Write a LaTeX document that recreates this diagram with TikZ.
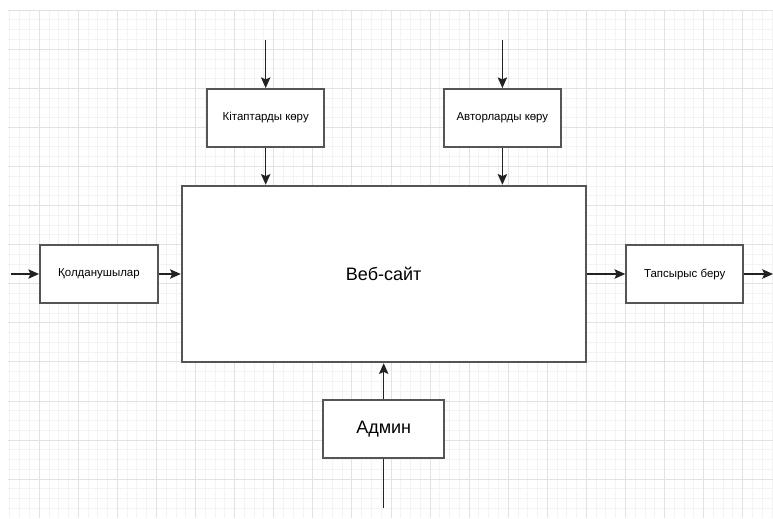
\documentclass[tikz,border=0pt]{standalone}
\usepackage{fontspec}
\setmainfont{Liberation Sans}
\usetikzlibrary{arrows.meta}
\definecolor{gridminor}{HTML}{F3F3F3}
\definecolor{gridmajor}{HTML}{E2E2E2}
\definecolor{boxline}{HTML}{555555}
\definecolor{arrowline}{HTML}{222222}
\begin{document}
\begin{tikzpicture}[x=0.75pt,y=-0.75pt,
  box/.style={draw=boxline, line width=1.4pt, fill=white, inner sep=0pt,
    align=center, minimum height={58*0.75pt}},
  smallbox/.style={box, minimum width={117*0.75pt}, font=\fontsize{8.6pt}{10pt}\selectfont},
  bigtext/.style={font=\fontsize{13.5pt}{16pt}\selectfont},
  flow/.style={draw=arrowline, line width=1.1pt, -{Stealth[length=8pt,width=7pt,inset=1.5pt]}},
  plain/.style={draw=arrowline, line width=1.1pt}]
  % page and background grid
  \useasboundingbox (0,0) rectangle (773,518);
  \fill[white] (0,0) rectangle (773,518);
  \begin{scope}
    \clip (8,10.5) rectangle (773,517);
    \foreach \i in {0,...,80} {
      \draw[gridminor, line width=0.75pt] ({0.2+9.77*\i},0) -- ({0.2+9.77*\i},520);
    }
    \foreach \i in {0,...,53} {
      \draw[gridminor, line width=0.75pt] (0,{10.2+9.77*\i}) -- (775,{10.2+9.77*\i});
    }
    \foreach \i in {0,...,20} {
      \draw[gridmajor, line width=0.75pt] ({0.2+39.08*\i},0) -- ({0.2+39.08*\i},520);
    }
    \foreach \i in {0,...,13} {
      \draw[gridmajor, line width=0.75pt] (0,{10.2+39.08*\i}) -- (775,{10.2+39.08*\i});
    }
  \end{scope}

  % blocks
  \node[box, minimum width={404*0.75pt}, minimum height={176.6*0.75pt}, bigtext] (web) at (383.7,274) {Веб-сайт};
  \node[smallbox] (kit) at (265.7,118) {Кітаптарды көру};
  \node[smallbox] (avt) at (502.4,118) {Авторларды көру};
  \node[smallbox, minimum width={118*0.75pt}] (kol) at (99,274) {Қолданушылар};
  \node[smallbox] (tap) at (684.7,274) {Тапсырыс беру};
  \node[box, minimum width={120.7*0.75pt}, bigtext] (adm) at (383.7,429) {Админ};

  % free ends of the connectors
  \coordinate (kitin) at (265.7,40);
  \coordinate (avtin) at (502.4,40);
  \coordinate (kolin) at (11,274);
  \coordinate (tapout) at (773,274);
  \coordinate (admin) at (383.7,508);

  % connectors
  \draw[flow] (kitin) -- (kit.north);
  \draw[flow] (kit.south) -- (kit.south |- web.north);
  \draw[flow] (avtin) -- (avt.north);
  \draw[flow] (avt.south) -- (avt.south |- web.north);
  \draw[flow] (kolin) -- (kol.west);
  \draw[flow] (kol.east) -- (web.west);
  \draw[flow] (web.east) -- (tap.west);
  \draw[flow] (tap.east) -- (tapout);
  \draw[plain] (admin) -- (adm.south);
  \draw[flow] (adm.north) -- (web.south);
\end{tikzpicture}
\end{document}
